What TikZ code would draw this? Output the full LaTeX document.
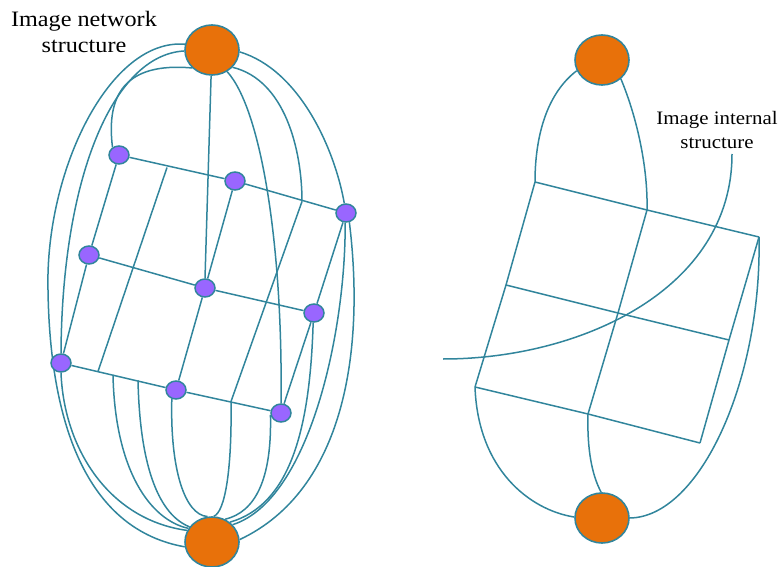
\documentclass[tikz,border=0pt]{standalone}
\usepackage{fontspec}
\setmainfont{Liberation Serif}
\newfontfamily\lblfont[FakeStretch=1.1]{Liberation Serif}
\usetikzlibrary{shapes.geometric,backgrounds}
\definecolor{tealc}{HTML}{31859C}
\definecolor{orngc}{HTML}{E8710A}
\definecolor{purpc}{HTML}{9966FF}
\begin{document}
\begin{tikzpicture}[x=1pt,y=-1pt,
  bignode/.style={ellipse,draw=tealc,fill=orngc,line width=1.6pt,minimum width=54pt,minimum height=50pt,inner sep=0pt},
  smallnode/.style={ellipse,draw=tealc,fill=purpc,line width=1.5pt,minimum width=20pt,minimum height=18pt,inner sep=0pt},
  link/.style={draw=tealc,line width=1.5pt},
  lbl/.style={align=center,inner sep=0pt,text=black}]
\useasboundingbox (0,0) rectangle (782,567);
% ---------- left figure ----------
\node[bignode] (T) at (212,50) {};
\node[bignode] (B) at (212,542) {};
\node[smallnode] (p1) at (119,155) {};
\node[smallnode] (p2) at (235,181) {};
\node[smallnode] (p3) at (346,213) {};
\node[smallnode] (p4) at (89,255) {};
\node[smallnode] (p5) at (205,288) {};
\node[smallnode] (p6) at (314,313) {};
\node[smallnode] (p7) at (61,363) {};
\node[smallnode] (p8) at (176,390) {};
\node[smallnode] (p9) at (281,413) {};
\coordinate (m1) at (167,167.5);
\coordinate (m2) at (302,201.5);
\coordinate (n1) at (98,371.5);
\coordinate (n2) at (231,401.5);
\coordinate (q1) at (113,375);
\coordinate (q2) at (138,380.5);
\node[lbl,font={\fontsize{22}{26.3}\selectfont\lblfont}] (lblL) at (84,31.7) {Image network\\structure};
% ---------- right figure ----------
\node[bignode] (T2) at (602,60) {};
\node[bignode] (B2) at (602,518) {};
\coordinate (a1) at (535,182);
\coordinate (a2) at (647,210);
\coordinate (a3) at (759,237);
\coordinate (b1) at (506,285);
\coordinate (b2) at (618,313);
\coordinate (b3) at (729,340);
\coordinate (c1) at (475,387);
\coordinate (c2) at (588,414);
\coordinate (c3) at (700,443);
\node[lbl,font={\fontsize{19}{24}\selectfont\lblfont}] (lblR) at (717,130.5) {Image internal\\structure};
\coordinate (ls) at (732,154);
\coordinate (le) at (443,359);
\begin{pgfonlayer}{background}
% grid left
\draw[link] (p1) -- (p2) -- (p3);
\draw[link] (p4) -- (p5) -- (p6);
\draw[link] (p7) -- (p8) -- (p9);
\draw[link] (p1) -- (p4) -- (p7);
\draw[link] (p2) -- (p5) -- (p8);
\draw[link] (p3) -- (p6) -- (p9);
\draw[link] (m1) -- (n1);
\draw[link] (m2) -- (n2);
% curves from top node
\draw[link] (T.168) .. controls (110,38) and (45,170) .. (48,290)
  .. controls (50,430) and (90,530) .. (B.190);
\draw[link] (T.182) .. controls (112,55) and (62,180) .. (p7.90);
\draw[link] (T.222) .. controls (125,62) and (106,95) .. (p1.130);
\draw[link] (T.268) -- (p5.north);
\draw[link] (T.305) .. controls (262,110) and (283,250) .. (p9.90);
\draw[link] (T.320) .. controls (285,80) and (302,150) .. (m2);
\draw[link] (T.356) .. controls (300,70) and (335,150) .. (p3.100);
% curves to bottom node
\draw[link] (p7.270) .. controls (64,450) and (110,520) .. (B.155);
\draw[link] (q1) .. controls (115,470) and (150,520) .. (B.150);
\draw[link] (q2) .. controls (140,470) and (160,515) .. (B.146);
\draw[link] (p8.245) .. controls (170,470) and (185,515) .. (B.100);
\draw[link] (n2) .. controls (232,470) and (225,512) .. (B.86);
\draw[link] (p9.190) .. controls (272,480) and (255,512) .. (B.60);
\draw[link] (p6.265) .. controls (310,430) and (290,505) .. (B.48);
\draw[link] (p3.265) .. controls (346,330) and (310,500) .. (B.40);
\draw[link] (p3.290) .. controls (365,350) and (345,490) .. (B.5);
% grid right
\draw[link] (a1) -- (a2) -- (a3);
\draw[link] (b1) -- (b2) -- (b3);
\draw[link] (c1) -- (c2) -- (c3);
\draw[link] (a1) -- (b1) -- (c1);
\draw[link] (a2) -- (b2) -- (c2);
\draw[link] (a3) -- (b3) -- (c3);
\draw[link] (T2.203) .. controls (545,95) and (535,140) .. (a1);
\draw[link] (T2.315) .. controls (638,120) and (648,170) .. (a2);
\draw[link] (c1) .. controls (478,470) and (530,510) .. (B2.178);
\draw[link] (c2) .. controls (587,450) and (592,475) .. (B2.92);
\draw[link] (a3) .. controls (762,380) and (700,517) .. (B2.0);
\draw[link] (ls) .. controls (732,290) and (580,359) .. (le);
\end{pgfonlayer}
\end{tikzpicture}
\end{document}
